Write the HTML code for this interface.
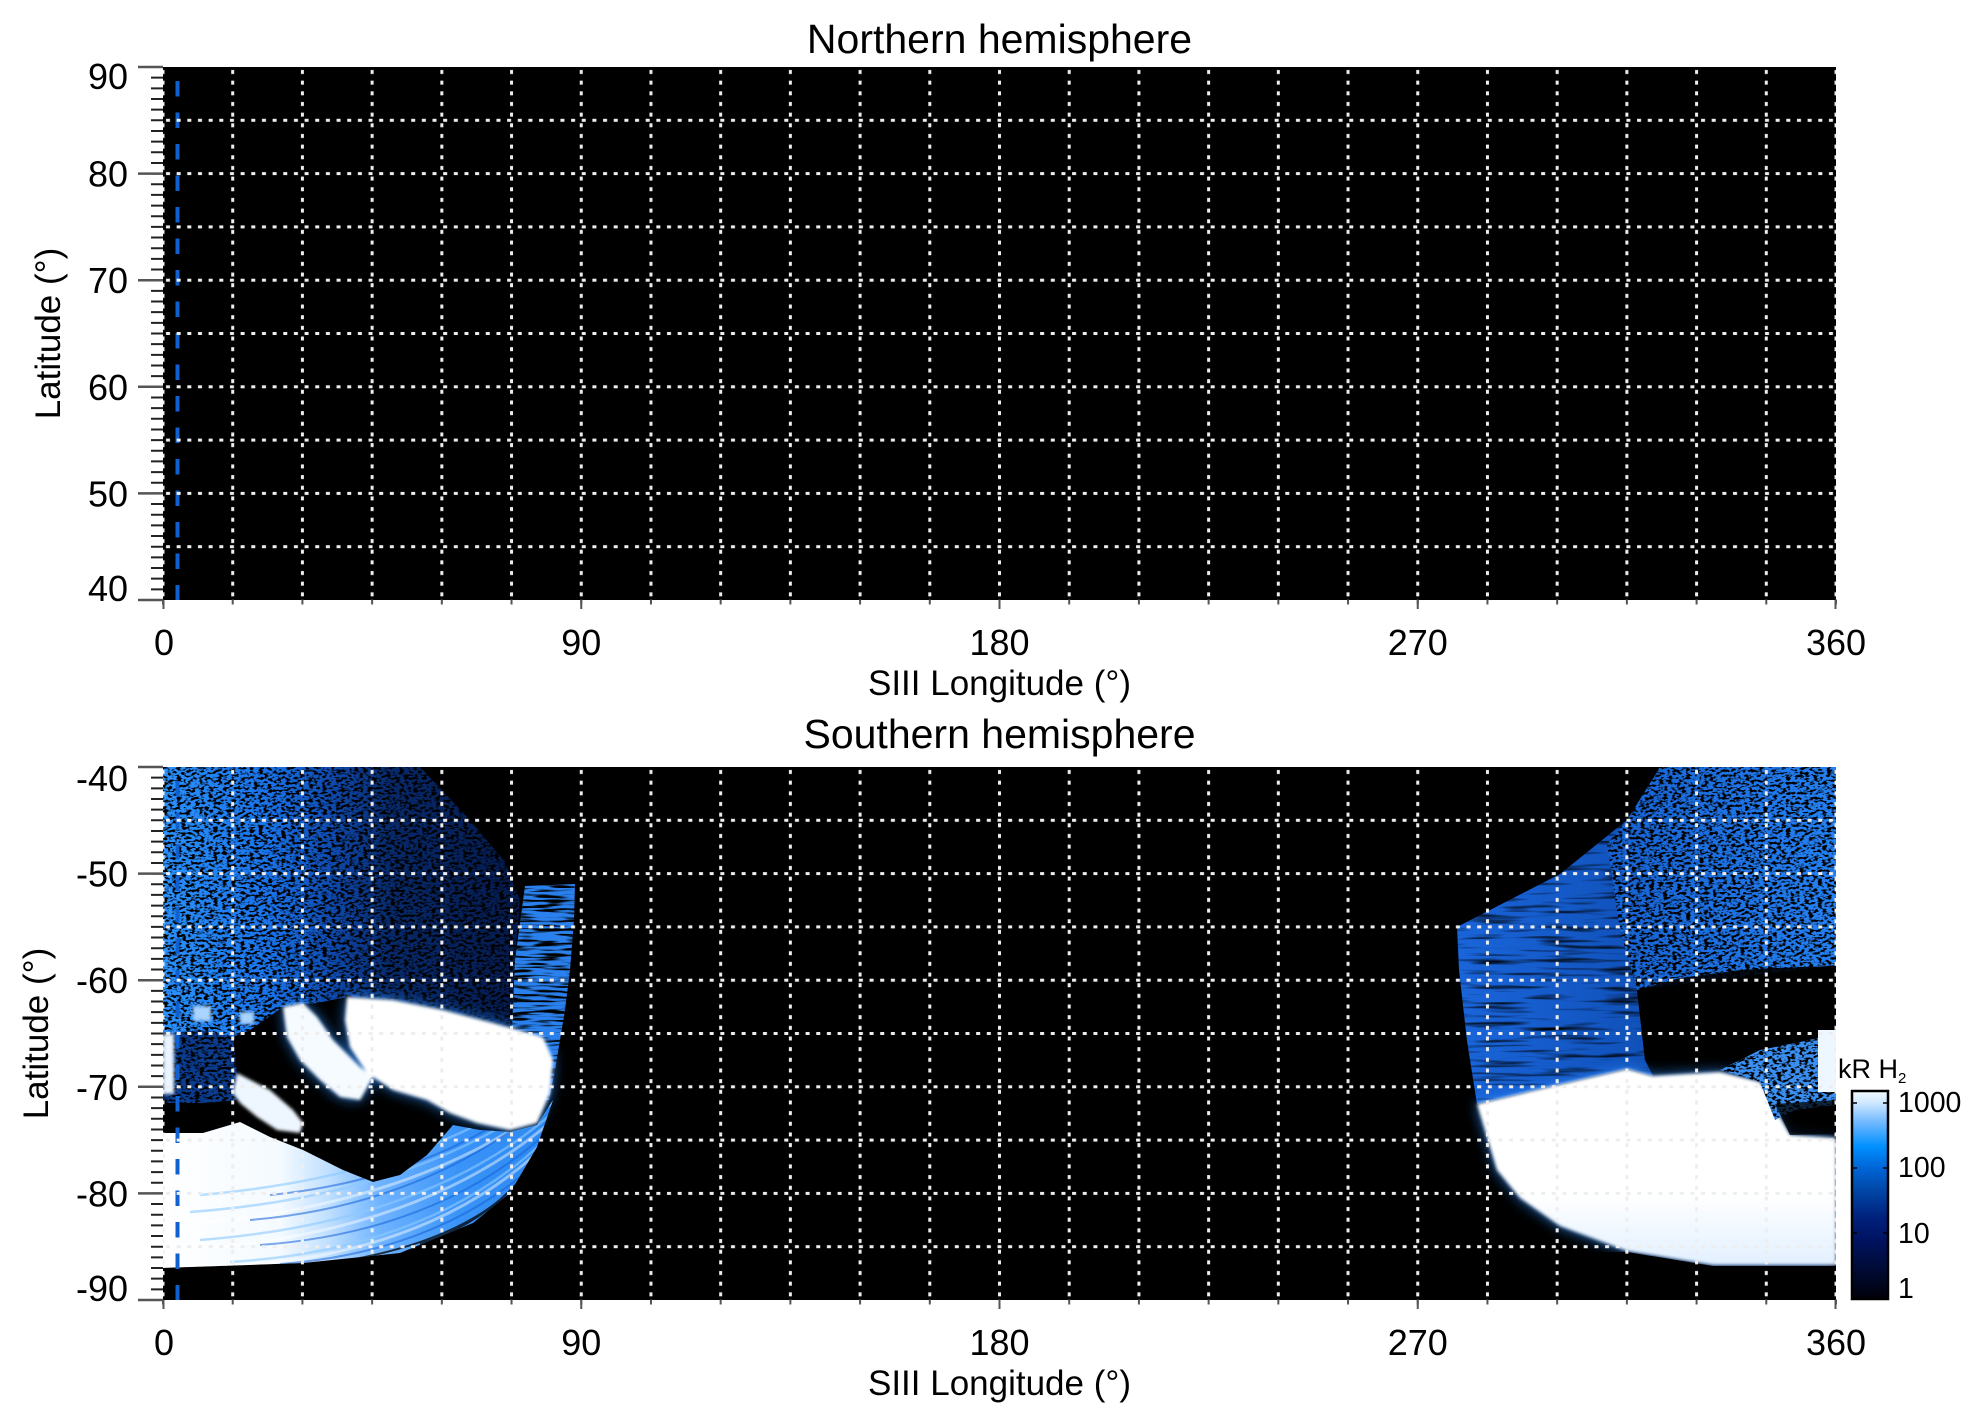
<!DOCTYPE html>
<html>
<head>
<meta charset="utf-8">
<style>
html,body{margin:0;padding:0;background:#fff;overflow:hidden;}
svg{display:block;}
text{font-family:"Liberation Sans",Arial,Helvetica,sans-serif;fill:#000;}
</style>
</head>
<body>
<svg width="1983" height="1423" viewBox="0 0 1983 1423" xmlns="http://www.w3.org/2000/svg">
<defs>
  <pattern id="pv1" patternUnits="userSpaceOnUse" x="161.5" y="67" width="69.7083" height="10.66"><rect x="0" y="3" width="3" height="4" fill="#eee"/></pattern>
  <pattern id="ph1" patternUnits="userSpaceOnUse" x="163" y="65.5" width="10.66" height="53.3"><rect x="3" y="0" width="4" height="3" fill="#eee"/></pattern>
  <pattern id="pv2" patternUnits="userSpaceOnUse" x="161.5" y="767" width="69.7083" height="10.66"><rect x="0" y="3" width="3" height="4" fill="#eee"/></pattern>
  <pattern id="ph2" patternUnits="userSpaceOnUse" x="163" y="765.5" width="10.66" height="53.3"><rect x="3" y="0" width="4" height="3" fill="#eee"/></pattern>

  <linearGradient id="gNL" gradientUnits="userSpaceOnUse" x1="163" y1="0" x2="540" y2="0">
    <stop offset="0" stop-color="#2a92ff"/>
    <stop offset="0.28" stop-color="#1a74ec"/>
    <stop offset="0.45" stop-color="#0e4aae"/>
    <stop offset="0.6" stop-color="#072a6c"/>
    <stop offset="1" stop-color="#041848"/>
  </linearGradient>
  <linearGradient id="gNR" gradientUnits="userSpaceOnUse" x1="1600" y1="0" x2="1836" y2="0">
    <stop offset="0" stop-color="#1660d0"/>
    <stop offset="1" stop-color="#2482f6"/>
  </linearGradient>
  <linearGradient id="gG" gradientUnits="userSpaceOnUse" x1="1450" y1="0" x2="1650" y2="0">
    <stop offset="0" stop-color="#1a66dc"/>
    <stop offset="1" stop-color="#1050b8"/>
  </linearGradient>
  <linearGradient id="gE" gradientUnits="userSpaceOnUse" x1="163" y1="0" x2="556" y2="0">
    <stop offset="0" stop-color="#ffffff"/>
    <stop offset="0.3" stop-color="#f4faff"/>
    <stop offset="0.42" stop-color="#c0e0ff"/>
    <stop offset="0.55" stop-color="#70b4ff"/>
    <stop offset="0.75" stop-color="#3a94f8"/>
    <stop offset="1" stop-color="#2a86f0"/>
  </linearGradient>
  <linearGradient id="gW" gradientUnits="userSpaceOnUse" x1="0" y1="1030" x2="0" y2="1265">
    <stop offset="0" stop-color="#ffffff"/>
    <stop offset="0.7" stop-color="#ffffff"/>
    <stop offset="1" stop-color="#e2f0ff"/>
  </linearGradient>
  <linearGradient id="gCB" gradientUnits="userSpaceOnUse" x1="0" y1="1299" x2="0" y2="1090">
    <stop offset="0" stop-color="#000008"/>
    <stop offset="0.125" stop-color="#000a30"/>
    <stop offset="0.28" stop-color="#001260"/>
    <stop offset="0.395" stop-color="#00227e"/>
    <stop offset="0.524" stop-color="#0048a8"/>
    <stop offset="0.63" stop-color="#0066d8"/>
    <stop offset="0.73" stop-color="#0090ff"/>
    <stop offset="0.845" stop-color="#70b8ff"/>
    <stop offset="0.94" stop-color="#d0e8ff"/>
    <stop offset="1" stop-color="#f6fbff"/>
  </linearGradient>

  <filter id="spk" filterUnits="userSpaceOnUse" x="150" y="760" width="1700" height="550" color-interpolation-filters="sRGB">
    <feTurbulence type="fractalNoise" baseFrequency="0.22 0.4" numOctaves="2" seed="4" result="t"/>
    <feColorMatrix in="t" type="matrix" values="0 0 0 0 0  0 0 0 0 0  0 0 0 0 0  -7 0 0 0 3.65" result="m"/>
    <feComposite in="m" in2="SourceAlpha" operator="in" result="mm"/>
    <feMerge><feMergeNode in="SourceGraphic"/><feMergeNode in="mm"/></feMerge>
  </filter>
  <filter id="str" filterUnits="userSpaceOnUse" x="150" y="760" width="1700" height="550" color-interpolation-filters="sRGB">
    <feTurbulence type="fractalNoise" baseFrequency="0.015 0.22" numOctaves="2" seed="9" result="t"/>
    <feColorMatrix in="t" type="matrix" values="0 0 0 0 0  0 0 0 0 0  0 0 0 0 0  -3 0 0 0 1.45" result="m"/>
    <feComposite in="m" in2="SourceAlpha" operator="in" result="mm"/>
    <feMerge><feMergeNode in="SourceGraphic"/><feMergeNode in="mm"/></feMerge>
  </filter>
  <filter id="str2" filterUnits="userSpaceOnUse" x="150" y="760" width="1700" height="550" color-interpolation-filters="sRGB">
    <feTurbulence type="fractalNoise" baseFrequency="0.03 0.35" numOctaves="2" seed="12" result="t"/>
    <feColorMatrix in="t" type="matrix" values="0 0 0 0 0  0 0 0 0 0  0 0 0 0 0  -6 0 0 0 3.1" result="m"/>
    <feComposite in="m" in2="SourceAlpha" operator="in" result="mm"/>
    <feMerge><feMergeNode in="SourceGraphic"/><feMergeNode in="mm"/></feMerge>
  </filter>
  <filter id="glow" x="-20%" y="-20%" width="140%" height="140%"><feGaussianBlur stdDeviation="7"/></filter>
  <filter id="soft" x="-10%" y="-10%" width="120%" height="120%"><feGaussianBlur stdDeviation="1.5"/></filter>

  <clipPath id="cE"><polygon points="163,1133 203,1133 240,1122 270,1137 303,1150 343,1170 373,1182 400,1175 427,1155 453,1125 480,1130 510,1132 537,1125 553,1100 537,1147 510,1193 473,1223 400,1253 303,1263 163,1268"/></clipPath>
  <clipPath id="cBot"><rect x="163" y="767" width="1673" height="533"/></clipPath>
</defs>

<!-- ================= TOP PLOT ================= -->
<text x="999.5" y="53" font-size="41" text-anchor="middle">Northern hemisphere</text>
<rect x="163" y="67" width="1673" height="533" fill="#000"/>
<line x1="177.5" y1="81" x2="177.5" y2="600" stroke="#1060d0" stroke-width="4" stroke-dasharray="15.5 16"/>
<rect x="163" y="67" width="1673" height="533" fill="url(#pv1)"/>
<rect x="163" y="70" width="1673" height="527" fill="url(#ph1)"/>

<line x1="157" y1="66" x2="157" y2="601" stroke="#222" stroke-width="12" stroke-dasharray="2 8.66"/>
<g stroke="#555" stroke-width="2.5">
  <line x1="138" y1="67" x2="163" y2="67"/>
  <line x1="138" y1="173.6" x2="163" y2="173.6"/>
  <line x1="138" y1="280.2" x2="163" y2="280.2"/>
  <line x1="138" y1="386.8" x2="163" y2="386.8"/>
  <line x1="138" y1="493.4" x2="163" y2="493.4"/>
  <line x1="138" y1="600" x2="163" y2="600"/>
</g>
<line x1="162" y1="602" x2="1837" y2="602" stroke="#555" stroke-width="5" stroke-dasharray="2 67.7083"/>
<g stroke="#555" stroke-width="2">
  <line x1="163.5" y1="600" x2="163.5" y2="609"/>
  <line x1="581.25" y1="600" x2="581.25" y2="609"/>
  <line x1="999.5" y1="600" x2="999.5" y2="609"/>
  <line x1="1417.75" y1="600" x2="1417.75" y2="609"/>
  <line x1="1835.5" y1="600" x2="1835.5" y2="609"/>
</g>
<g font-size="36" text-anchor="end">
  <text x="128" y="89">90</text>
  <text x="128" y="186.6">80</text>
  <text x="128" y="293.2">70</text>
  <text x="128" y="399.8">60</text>
  <text x="128" y="506.4">50</text>
  <text x="128" y="601">40</text>
</g>
<g font-size="36" text-anchor="middle">
  <text x="164" y="655">0</text>
  <text x="581.25" y="655">90</text>
  <text x="999.5" y="655">180</text>
  <text x="1417.75" y="655">270</text>
  <text x="1836" y="655">360</text>
</g>
<text x="999.5" y="695" font-size="35" text-anchor="middle">SIII Longitude (°)</text>
<text transform="translate(60,333.5) rotate(-90)" font-size="35" text-anchor="middle">Latitude (°)</text>

<!-- ================= BOTTOM PLOT ================= -->
<text x="999.5" y="748" font-size="41" text-anchor="middle">Southern hemisphere</text>
<rect x="163" y="767" width="1673" height="533" fill="#000"/>

<g clip-path="url(#cBot)">
  <!-- noise regions -->
  <g filter="url(#spk)">
    <polygon fill="url(#gNL)" points="163,767 420,767 470,820 505,862 520,900 515,960 512,1030 493,1023 443,1010 393,1000 347,997 317,1003 283,1007 250,1030 233,1037 200,1030 163,1034"/>
    <polygon fill="#0a3c90" points="163,1034 200,1030 233,1037 240,1100 203,1103 163,1103"/>
    <polygon fill="url(#gNR)" points="1660,767 1836,767 1836,965 1637,990 1620,930 1600,880 1607,844 1627,820"/>
  </g>
  <!-- streaky regions -->
  <g filter="url(#str)">
    <polygon fill="url(#gG)" points="1457,927 1560,874 1627,820 1607,844 1620,930 1637,990 1645,1060 1653,1076 1627,1069 1553,1086 1477,1104 1467,1041 1459,970"/>
  </g>
  <g filter="url(#str2)">
    <polygon fill="#2a80ec" points="525,886 575,884 574,920 570,970 565,1010 560,1040 555,1070 549,1100 537,1100 512,1030 515,960"/>
  </g>

  <!-- dark hole right -->
  <polygon fill="#000" opacity="0.9" points="1637,990 1680,978 1740,970 1800,967 1836,966 1836,1032 1800,1045 1760,1062 1720,1068 1660,1075 1645,1060"/>

  <!-- glows -->
  <g filter="url(#glow)" opacity="0.85">
    <polygon fill="#2a88f8" points="347,997 393,1000 443,1010 493,1023 543,1037 553,1060 550,1093 537,1123 510,1130 477,1123 450,1113 427,1100 393,1090 367,1073 350,1047 345,1020"/>
    <polygon fill="#2a88f8" points="283,1007 303,1003 317,1017 333,1040 360,1067 373,1077 360,1100 340,1097 320,1080 300,1060 287,1037"/>
    <polygon fill="#2a88f8" points="1477,1104 1553,1086 1627,1069 1653,1076 1720,1072 1760,1082 1790,1135 1836,1138 1836,1265 1713,1265 1627,1251 1560,1226 1520,1198 1497,1170"/>
  </g>

  <!-- lower-left fan E -->
  <polygon fill="url(#gE)" points="163,1133 203,1133 240,1122 270,1137 303,1150 343,1170 373,1182 400,1175 427,1155 453,1125 480,1130 510,1132 537,1125 553,1100 537,1147 510,1193 473,1223 400,1253 303,1263 163,1268"/>
  <g clip-path="url(#cE)" fill="none">
    <g stroke="#ffffff" stroke-width="3" opacity="0.45">
      <path d="M200,1268 Q420,1262 540,1150"/>
      <path d="M180,1250 Q420,1235 553,1120"/>
      <path d="M170,1225 Q410,1210 556,1100"/>
    </g>
    <g stroke="#8ccaff" stroke-width="2.5" opacity="0.6">
      <path d="M230,1262 Q430,1250 545,1140"/>
      <path d="M200,1240 Q430,1222 556,1110"/>
      <path d="M190,1212 Q420,1195 556,1090"/>
      <path d="M200,1195 Q430,1175 556,1075"/>
    </g>
    <g stroke="#1562d8" stroke-width="2" opacity="0.55">
      <path d="M280,1264 Q440,1252 540,1160"/>
      <path d="M260,1245 Q440,1232 552,1128"/>
      <path d="M250,1220 Q430,1205 556,1096"/>
      <path d="M270,1195 Q440,1178 556,1082"/>
    </g>
    <g stroke="#000" stroke-width="2" opacity="0.75">
      <path d="M360,1258 Q450,1240 500,1200"/>
      <path d="M420,1244 Q480,1225 520,1180"/>
      <path d="M470,1228 Q510,1205 535,1160"/>
    </g>
  </g>

  <!-- white blobs -->
  <g filter="url(#soft)">
    <polygon fill="#fff" points="347,997 393,1000 443,1010 493,1023 543,1037 553,1060 550,1093 537,1123 510,1130 477,1123 450,1113 427,1100 393,1090 367,1073 350,1047 345,1020"/>
    <polygon fill="#f6fbff" points="283,1007 303,1003 317,1017 333,1040 360,1067 373,1077 360,1100 340,1097 320,1080 300,1060 287,1037"/>
    <polygon fill="#eef7ff" points="237,1073 270,1090 293,1110 303,1123 300,1133 277,1130 257,1117 240,1103 233,1093"/>
    <rect x="163" y="1034" width="11" height="60" fill="#eaf5ff"/>
    <rect x="193" y="1006" width="18" height="15" fill="#a8d4ff"/>
    <rect x="240" y="1012" width="14" height="12" fill="#a8d4ff"/>
    <polygon fill="url(#gW)" points="1477,1104 1553,1086 1627,1069 1653,1076 1720,1072 1760,1082 1790,1135 1836,1138 1836,1265 1713,1265 1627,1251 1560,1226 1520,1198 1497,1170"/>
  </g>

  <!-- right mixed zone -->
  <g filter="url(#spk)">
    <polygon fill="#3a90f4" points="1720,1070 1760,1050 1800,1042 1836,1034 1836,1105 1795,1110 1775,1120 1760,1082"/>
  </g>
  <polygon fill="#000" opacity="0.75" points="1775,1104 1836,1100 1836,1134 1790,1135"/>
  <rect x="1818" y="1030" width="18" height="62" fill="#eef7ff"/>

  <!-- black bottom band -->
  <polygon fill="#000" points="163,1268 303,1264 400,1254 1627,1252 1713,1266 1836,1266 1836,1300 163,1300"/>
</g>

<line x1="177.5" y1="781" x2="177.5" y2="1300" stroke="#1060d0" stroke-width="4" stroke-dasharray="15.5 16"/>
<rect x="163" y="767" width="1673" height="533" fill="url(#pv2)"/>
<rect x="163" y="770" width="1673" height="527" fill="url(#ph2)"/>

<line x1="157" y1="766" x2="157" y2="1301" stroke="#222" stroke-width="12" stroke-dasharray="2 8.66"/>
<g stroke="#555" stroke-width="2.5">
  <line x1="138" y1="767" x2="163" y2="767"/>
  <line x1="138" y1="873.6" x2="163" y2="873.6"/>
  <line x1="138" y1="980.2" x2="163" y2="980.2"/>
  <line x1="138" y1="1086.8" x2="163" y2="1086.8"/>
  <line x1="138" y1="1193.4" x2="163" y2="1193.4"/>
  <line x1="138" y1="1300" x2="163" y2="1300"/>
</g>
<line x1="162" y1="1302" x2="1837" y2="1302" stroke="#555" stroke-width="5" stroke-dasharray="2 67.7083"/>
<g stroke="#555" stroke-width="2">
  <line x1="163.5" y1="1300" x2="163.5" y2="1309"/>
  <line x1="581.25" y1="1300" x2="581.25" y2="1309"/>
  <line x1="999.5" y1="1300" x2="999.5" y2="1309"/>
  <line x1="1417.75" y1="1300" x2="1417.75" y2="1309"/>
  <line x1="1835.5" y1="1300" x2="1835.5" y2="1309"/>
</g>
<g font-size="36" text-anchor="end">
  <text x="128" y="791">-40</text>
  <text x="128" y="886.6">-50</text>
  <text x="128" y="993.2">-60</text>
  <text x="128" y="1099.8">-70</text>
  <text x="128" y="1206.4">-80</text>
  <text x="128" y="1301">-90</text>
</g>
<g font-size="36" text-anchor="middle">
  <text x="164" y="1355">0</text>
  <text x="581.25" y="1355">90</text>
  <text x="999.5" y="1355">180</text>
  <text x="1417.75" y="1355">270</text>
  <text x="1836" y="1355">360</text>
</g>
<text x="999.5" y="1395" font-size="35" text-anchor="middle">SIII Longitude (°)</text>
<text transform="translate(48,1033.5) rotate(-90)" font-size="35" text-anchor="middle">Latitude (°)</text>

<!-- ================= COLORBAR ================= -->
<text x="1838" y="1078" font-size="27">kR H<tspan font-size="15" dy="5">2</tspan></text>
<rect x="1852" y="1091" width="36" height="208" fill="url(#gCB)" stroke="#000" stroke-width="2.5"/>
<g stroke="#000" stroke-width="1.5">
  <line x1="1883" y1="1103" x2="1888" y2="1103"/>
  <line x1="1883" y1="1168" x2="1888" y2="1168"/>
  <line x1="1883" y1="1233" x2="1888" y2="1233"/>
  <line x1="1852" y1="1103" x2="1857" y2="1103"/>
  <line x1="1852" y1="1168" x2="1857" y2="1168"/>
  <line x1="1852" y1="1233" x2="1857" y2="1233"/>
</g>
<g font-size="28.5">
  <text x="1898" y="1112">1000</text>
  <text x="1898" y="1177">100</text>
  <text x="1898" y="1243">10</text>
  <text x="1898" y="1298">1</text>
</g>
</svg>
</body>
</html>
